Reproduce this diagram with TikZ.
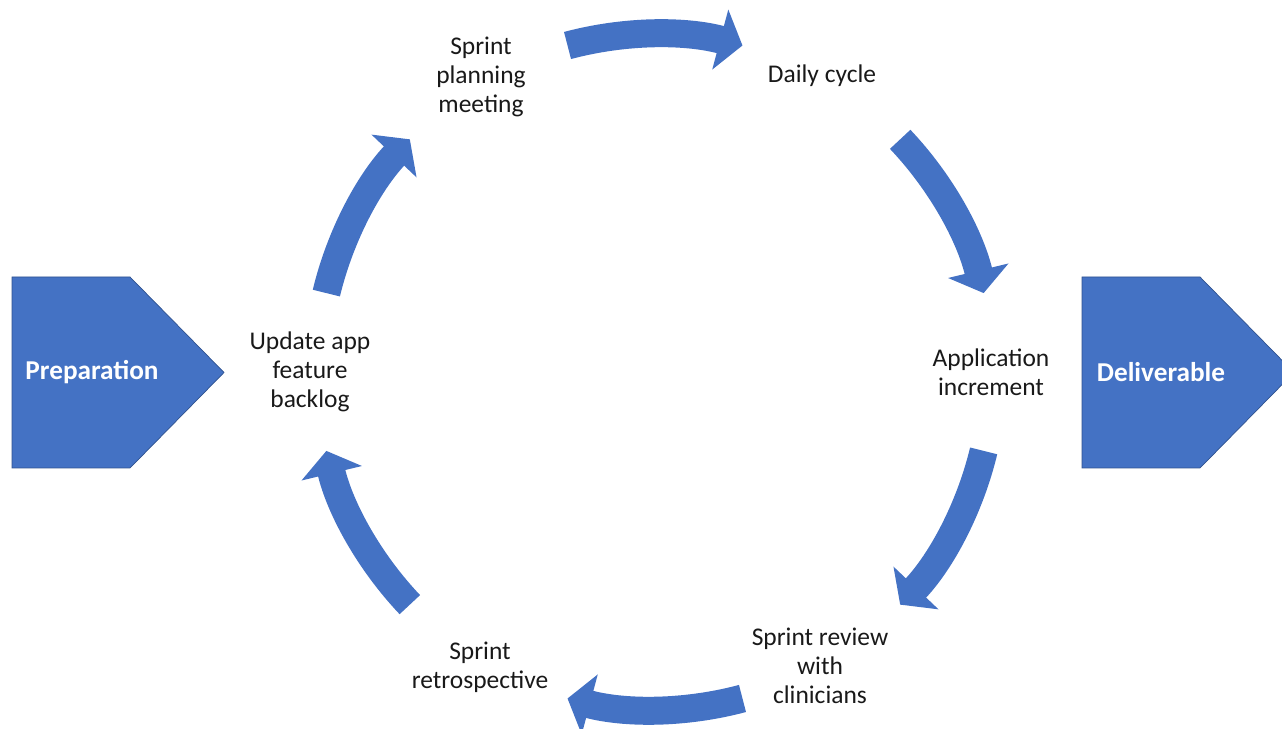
\documentclass[tikz,border=0pt]{standalone}
\usepackage{fontspec}
\setmainfont{Carlito}
\usepackage{xcolor}
\usepackage{tikz}
\usetikzlibrary{arrows.meta,calc}
\definecolor{cycle}{HTML}{4472C4}
\definecolor{cycleline}{HTML}{2F528F}

\begin{document}
\begin{tikzpicture}[
  x=0.02cm, y=0.02cm,
  font=\fontsize{14.5}{16.5}\selectfont,
  stage/.style={align=center,text=black!90,inner sep=2pt},
  chev/.style={fill=cycle,draw=cycleline,line width=0.4pt},
  chevtext/.style={text=white,font=\fontsize{15.5}{18}\selectfont\bfseries},
  flow/.style={draw=cycle,line width=0.56cm,-{Triangle[width=1.22cm,length=0.46cm]}},
]
\useasboundingbox (0,0) rectangle (1282,729);
\clip (0,0) rectangle (1282,729);
\coordinate (ctr) at (655,357);

% ---- the two end pieces
\filldraw[chev] (12,261) -- (130,261) -- (224,356.5) -- (130,452) -- (12,452) -- cycle;
\node[chevtext] (prep) at (92,357) {Preparation};
\filldraw[chev] (1082,261) -- (1200,261) -- (1294,356.5) -- (1200,452) -- (1082,452) -- cycle;
\node[chevtext] (deliv) at (1161,357) {Deliverable};

% ---- the six stages, round the circle
\node[stage] (plan) at (481,652) {Sprint\\planning\\meeting};
\node[stage] (daily) at (822,653) {Daily cycle};
\node[stage] (incr) at (991,357) {Application\\increment};
\node[stage] (review) at (820,63) {Sprint review\\with\\clinicians};
\node[stage] (retro) at (480,62) {Sprint\\retrospective};
\node[stage] (backlog) at (310,357) {Update app\\feature\\backlog};

% ---- curved arrows between the stages
\foreach \m [count=\i] in {90,28.5,-28.5,-90,-151.5,151.5} {
  \coordinate (tail\i) at ($(ctr)+(\m+15:338)$);
  \draw[flow] (tail\i) arc[start angle=\m+15, delta angle=-30, radius=338];
}
\end{tikzpicture}
\end{document}
